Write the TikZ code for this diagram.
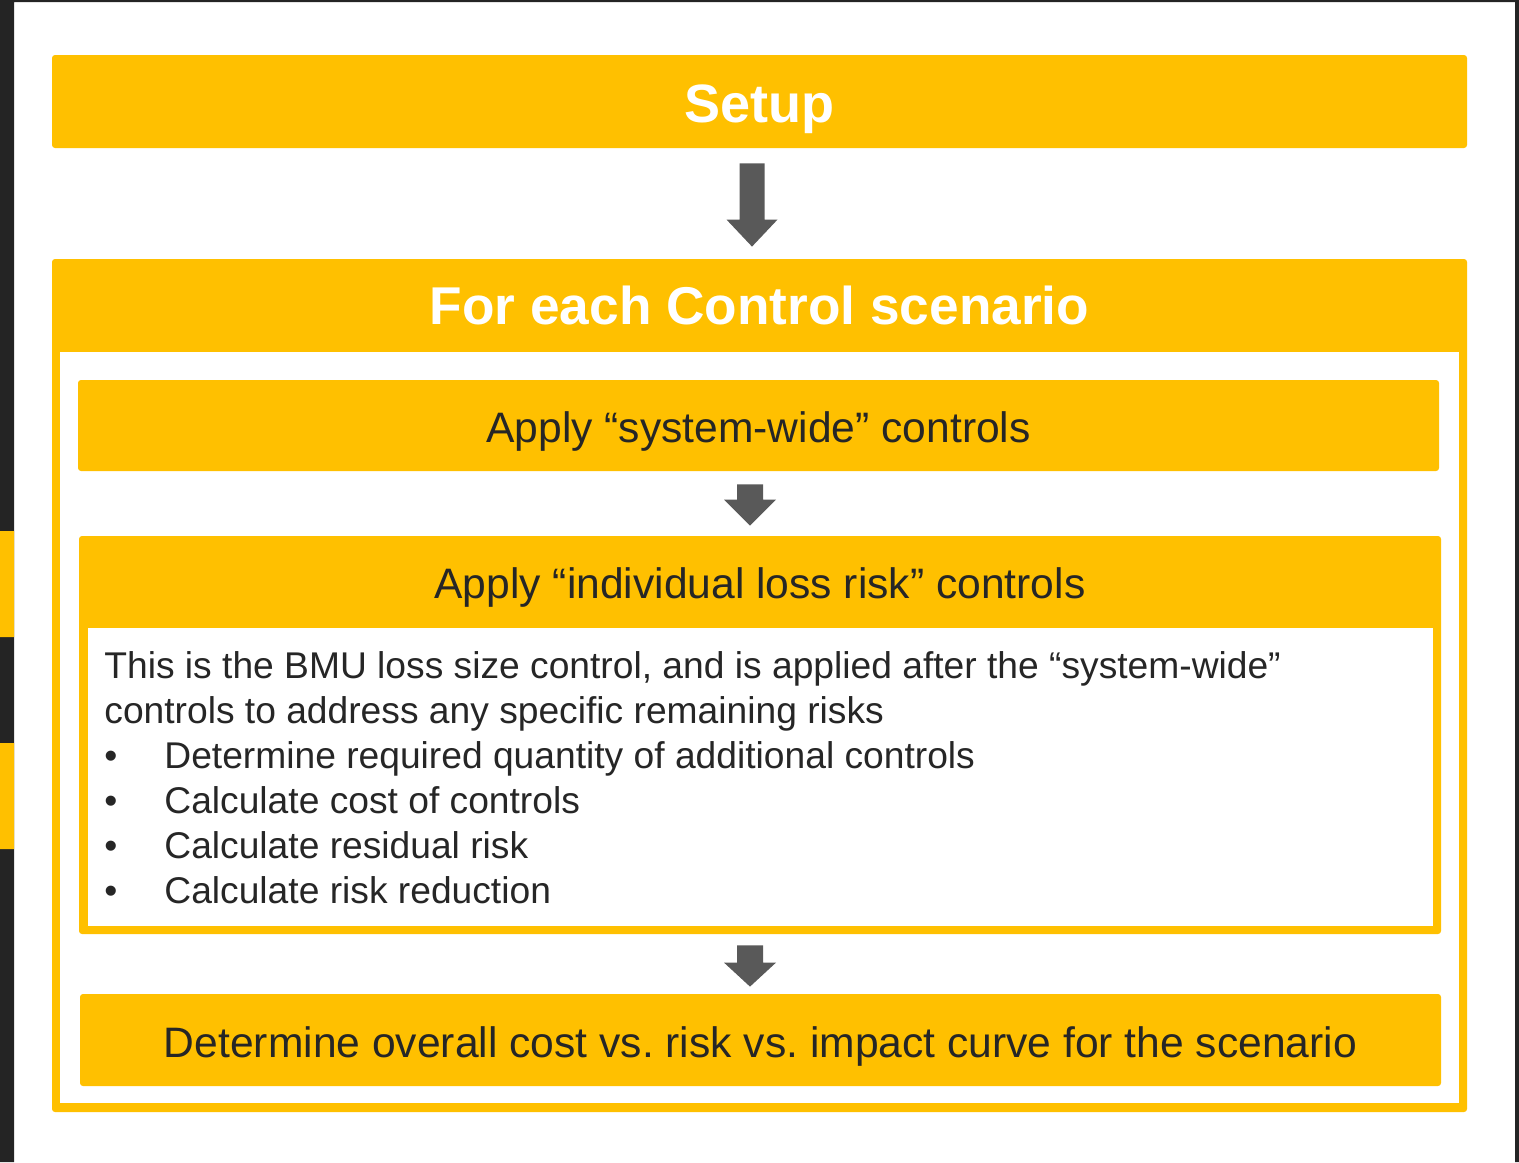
\documentclass[tikz,border=0pt]{standalone}
\usepackage{fontspec}
\setmainfont{Liberation Sans}
\usetikzlibrary{calc}
\definecolor{amber}{HTML}{FFC000}
\definecolor{arrowgrey}{HTML}{595959}
\definecolor{inkdark}{HTML}{262626}
\definecolor{edgedark}{HTML}{242424}
\frenchspacing
% block arrow: start, tip, shaft half width, head half width, head length (pt)
\newcommand{\blockdown}[5]{%
  \fill[arrowgrey] let \p1=(#1), \p2=(#2) in
    (\x1-#3,\y1) -- (\x1+#3,\y1) -- (\x1+#3,\y2+#5) -- (\x1+#4,\y2+#5)
    -- (\x2,\y2) -- (\x1-#4,\y2+#5) -- (\x1-#3,\y2+#5) -- cycle;}
\begin{document}
\begin{tikzpicture}[x=0.5pt,y=-0.5pt,line join=miter,
  bar/.style={fill=amber,rounded corners=1.5pt,inner sep=0pt},
  headtext/.style={text=white,inner sep=0pt,anchor=base,font=\fontsize{27}{32}\selectfont\bfseries},
  steptext/.style={text=inkdark,inner sep=0pt,anchor=base,font=\fontsize{21.3}{25}\selectfont},
  bodytext/.style={text=inkdark,inner sep=0pt,anchor=base west,font=\fontsize{18.6}{22.5}\selectfont}]
  \useasboundingbox (0,0) rectangle (1519,1162);
  % screen edges
  \fill[edgedark] (0,0) rectangle (14,1162) (0,0) rectangle (1519,2) (1515,0) rectangle (1519,1162);
  \fill[amber] (0,531) rectangle (14,637) (0,743) rectangle (14,849);
  % setup
  \node[bar,minimum width=707.5pt,minimum height=46.5pt] (setup) at (759.5,101.5) {};
  \node[headtext] (setuplabel) at (759.5,122) {Setup};
  % loop over scenarios
  \node[bar,minimum width=707.5pt,minimum height=426.5pt] (loop) at (759.5,685.5) {};
  \fill[white] (60,352) rectangle (1459,1103);
  \node[headtext,font=\fontsize{26.6}{31}\selectfont\bfseries] (looplabel) at (759.5,324) {For each Control scenario};
  \node[bar,minimum width=680.5pt,minimum height=45.5pt] (system) at (758.5,425.5) {};
  \node[steptext] (systemlabel) at (758.5,442) {Apply “system-wide” controls};
  \node[bar,minimum width=681pt,minimum height=199pt] (indiv) at (760,735) {};
  \fill[white] (88,628) rectangle (1433,926);
  \node[steptext] (indivlabel) at (760,598) {Apply “individual loss risk” controls};
  \node[bodytext] (line1) at (104,678) {This is the BMU loss size control, and is applied after the “system-wide”};
  \node[bodytext] (line2) at (104,723) {controls to address any specific remaining risks};
  \foreach \y/\t in {768/Determine required quantity of additional controls,813/Calculate cost of controls,
    858/Calculate residual risk,903/Calculate risk reduction}{
    \node[bodytext] (bul\y) at (104,\y) {•};
    \node[bodytext] (item\y) at (164,\y) {\t};
  }
  \node[bar,minimum width=680.5pt,minimum height=46pt] (curve) at (760.5,1040) {};
  \node[steptext] (curvelabel) at (760.5,1057) {Determine overall cost vs. risk vs. impact curve for the scenario};
  % arrows
  \coordinate (a1s) at ($(setup.south)+(-7.5,15)$);
  \coordinate (a1e) at ($(loop.north)+(-7.5,-12)$);
  \blockdown{a1s}{a1e}{6.25pt}{12.75pt}{13.5pt}
  \coordinate (a2s) at ($(system.south)+(-8.5,13)$);
  \coordinate (a2e) at ($(indiv.north)+(-10,-10)$);
  \blockdown{a2s}{a2e}{6.5pt}{13pt}{13pt}
  \coordinate (a3s) at ($(indiv.south)+(-10,11)$);
  \coordinate (a3e) at ($(curve.north)+(-10.5,-7)$);
  \blockdown{a3s}{a3e}{6.5pt}{13pt}{12pt}
\end{tikzpicture}
\end{document}
